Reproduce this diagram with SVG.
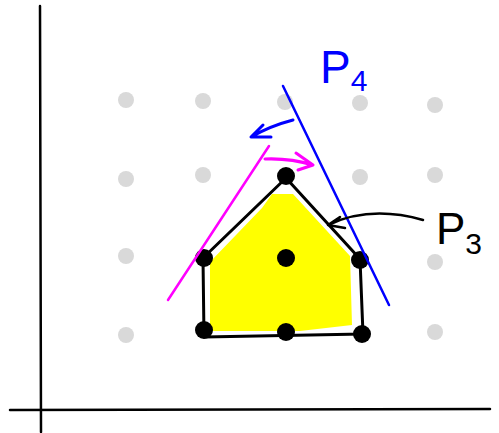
<svg xmlns="http://www.w3.org/2000/svg" width="499" height="433" viewBox="0 0 499 433">
<style>
.g{fill:#d9d9d9}
.b{fill:#000}
.ln{fill:none;stroke-linecap:round;stroke-linejoin:round}
.lbl{font-family:"Liberation Sans",Arial,sans-serif}
</style>
<rect width="499" height="433" fill="#fff"/>
<g id="axes">
<path class="ln" d="M40,6 L41,432" stroke="#000" stroke-width="2.5"/>
<path class="ln" d="M10,410 L490,409" stroke="#000" stroke-width="2.5"/>
</g>
<g id="grid">
<circle class="g" cx="126" cy="100" r="8"/><circle class="g" cx="203" cy="101" r="8"/><circle class="g" cx="285" cy="102" r="8"/><circle class="g" cx="360" cy="103" r="8"/><circle class="g" cx="435" cy="105" r="8"/>
<circle class="g" cx="126" cy="179" r="8"/><circle class="g" cx="203" cy="175" r="8"/><circle class="g" cx="360" cy="177" r="8"/><circle class="g" cx="435" cy="175" r="8"/>
<circle class="g" cx="126" cy="256" r="8"/><circle class="g" cx="435" cy="262" r="8"/>
<circle class="g" cx="126" cy="335" r="8"/><circle class="g" cx="435" cy="332" r="8"/>
</g>
<g id="P3">
<path d="M272,194 L293,194 L350,256 L352,325 L300,331 L210,331 L210,262 L262,208 Z" fill="#ffff00"/>
<path class="ln" d="M203,258 L286,178 L360,259 L363,334 L204,337 Z" stroke="#000" stroke-width="3"/>
<circle class="b" cx="286" cy="176" r="9"/>
<circle class="b" cx="204" cy="258" r="9"/>
<circle class="b" cx="286" cy="258" r="9"/>
<circle class="b" cx="360" cy="260" r="9"/>
<circle class="b" cx="204" cy="330" r="9"/>
<circle class="b" cx="286" cy="332" r="9"/>
<circle class="b" cx="362" cy="334" r="9"/>
</g>
<g id="connectors">
<path class="ln" d="M269,146 L168,300" stroke="#ff00ff" stroke-width="2.5"/>
<path class="ln" d="M265,159 Q290,158 313,165 M296,153 L313,165 L298,170" stroke="#ff00ff" stroke-width="3"/>
<path class="ln" d="M283,86 L389,305" stroke="#0000ff" stroke-width="2.5"/>
<path class="ln" d="M293,120 Q270,126 251,137 M263,125 L251,137 L271,137" stroke="#0000ff" stroke-width="3"/>
<path class="ln" d="M423,220 Q370,205 328,225 M340,217 L328,225 L345,228" stroke="#000" stroke-width="2.5"/>
</g>
<g id="label-P4">
<text class="lbl" x="320" y="83" font-size="46" fill="#0000ff">P<tspan font-size="30" dy="8">4</tspan></text>
</g>
<g id="label-P3">
<text class="lbl" x="436" y="244" font-size="44" fill="#000">P<tspan font-size="30" dy="10">3</tspan></text>
</g>
</svg>
